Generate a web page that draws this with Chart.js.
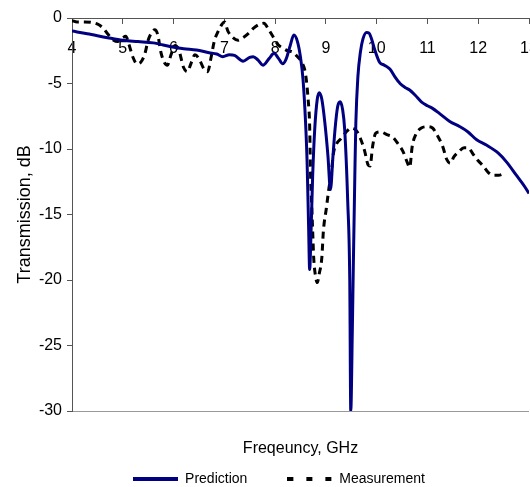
<!DOCTYPE html>
<html>
<head>
<meta charset="utf-8">
<script src="https://cdn.jsdelivr.net/npm/chart.js@4.4.1/dist/chart.umd.min.js"></script>
<style>
  html, body { margin: 0; padding: 0; overflow: hidden; background: #fff; }
  canvas { display: block; }
</style>
</head>
<body>
<canvas id="transChart" width="558" height="496"></canvas>
<script>
// Prediction curve (GHz, dB)
const predFreq = [4.0, 4.3, 4.7, 5.0, 5.3, 5.6, 5.95, 6.2, 6.45, 6.7, 6.85, 6.97, 7.1, 7.2, 7.37, 7.5,
    7.57, 7.66, 7.76, 7.88, 7.98, 8.07, 8.15, 8.22, 8.29, 8.37, 8.44, 8.5, 8.55, 8.6, 8.63, 8.66,
    8.68, 8.71, 8.74, 8.78, 8.83, 8.87, 8.92, 8.98, 9.04, 9.09, 9.14, 9.18, 9.23, 9.28, 9.33, 9.37,
    9.43, 9.47, 9.49, 9.52, 9.54, 9.57, 9.59, 9.63, 9.68, 9.73, 9.8, 9.85, 9.9, 9.96, 10.06, 10.15,
    10.26, 10.36, 10.46, 10.56, 10.65, 10.76, 10.88, 11.0, 11.1, 11.24, 11.44, 11.64, 11.8, 11.97,
    12.16, 12.39, 12.56, 12.75, 12.92, 13.0];
const predDb = [-1.0, -1.2, -1.5, -1.7, -1.8, -1.9, -2.2, -2.35, -2.45, -2.65, -2.75, -2.95, -2.8, -2.85, -3.3, -3.0,
    -2.95, -3.2, -3.6, -3.1, -2.7, -3.1, -3.5, -3.1, -2.2, -1.3, -1.8, -3.0, -4.7, -8.0, -11.0, -16.0,
    -19.2, -16.0, -12.0, -8.5, -6.2, -5.7, -6.2, -8.0, -10.5, -13.1, -10.5, -8.5, -6.8, -6.4, -7.0, -8.5,
    -14.0, -20.0, -30.0, -24.0, -19.0, -12.0, -8.0, -4.5, -2.6, -1.6, -1.1, -1.15, -1.6, -2.4, -3.4, -3.6,
    -3.9, -4.5, -5.0, -5.3, -5.5, -5.9, -6.4, -6.7, -6.9, -7.3, -7.9, -8.3, -8.7, -9.3,
    -9.7, -10.3, -11.0, -12.0, -12.9, -13.4];

// Measurement curve (GHz, dB)
const measFreq = [4.0, 4.1, 4.25, 4.4, 4.52, 4.62, 4.7, 4.82, 4.9, 5.0, 5.06, 5.12, 5.2, 5.28, 5.35, 5.43,
    5.5, 5.57, 5.63, 5.69, 5.75, 5.82, 5.88, 5.95, 6.03, 6.1, 6.2, 6.27, 6.35, 6.42, 6.5, 6.6,
    6.67, 6.74, 6.8, 6.88, 6.95, 7.0, 7.07, 7.17, 7.27, 7.37, 7.47, 7.57, 7.68, 7.78, 7.86, 7.94,
    8.05, 8.15, 8.25, 8.35, 8.45, 8.53, 8.6, 8.65, 8.68, 8.69, 8.7, 8.72, 8.74, 8.76, 8.8, 8.83,
    8.87, 8.92, 8.95, 9.01, 9.06, 9.11, 9.15, 9.21, 9.3, 9.4, 9.5, 9.6, 9.68, 9.76, 9.83, 9.87,
    9.92, 9.98, 10.08, 10.2, 10.32, 10.42, 10.52, 10.6, 10.65, 10.7, 10.77, 10.88, 11.0, 11.1, 11.2, 11.3,
    11.38, 11.45, 11.52, 11.62, 11.72, 11.8, 11.9, 12.0, 12.1, 12.2, 12.3, 12.4, 12.5];
const measDb = [-0.2, -0.3, -0.3, -0.35, -0.5, -0.8, -1.2, -1.7, -1.8, -1.5, -1.4, -2.0, -3.0, -3.5, -3.4, -2.8,
    -1.7, -1.1, -0.9, -1.3, -2.6, -3.4, -3.6, -2.8, -2.1, -2.4, -3.8, -4.1, -3.4, -2.8, -3.1, -3.9,
    -4.1, -3.0, -1.8, -1.0, -0.5, -0.3, -1.0, -1.5, -1.7, -1.5, -1.2, -0.8, -0.5, -0.4, -0.8, -1.3,
    -2.0, -2.3, -2.5, -2.6, -3.0, -3.4, -4.3, -6.2, -8.2, -10.2, -12.2, -14.2, -16.3, -18.3, -19.8, -20.2,
    -19.5, -18.3, -16.3, -14.5, -13.0, -11.7, -10.3, -9.6, -9.2, -8.7, -8.4, -8.6, -9.2, -10.1, -11.2, -11.3,
    -9.8, -8.8, -8.7, -8.9, -9.1, -9.6, -10.2, -11.0, -11.4, -9.8, -8.9, -8.4, -8.3, -8.4, -9.0, -9.8,
    -10.8, -11.1, -10.6, -10.2, -9.9, -9.9, -10.4, -10.9, -11.3, -11.8, -12.0, -12.0, -11.9];

const xTickValues = [4, 5, 6, 7, 8, 9, 10, 11, 12, 13];
const yTickValues = [-30, -25, -20, -15, -10, -5, 0];

Chart.defaults.font.family = "'Liberation Sans', Arial, sans-serif";
Chart.defaults.color = '#000';

// Small legend swatches: point-style legends ignore borderDash, so draw them as images
function legendSwatch(color, dash) {
    const c = document.createElement('canvas');
    c.width = 45;
    c.height = 4;
    const g = c.getContext('2d');
    g.strokeStyle = color;
    g.lineWidth = 4;
    g.setLineDash(dash);
    g.beginPath();
    g.moveTo(0, 2);
    g.lineTo(45, 2);
    g.stroke();
    return c;
}

const ctx = document.getElementById('transChart').getContext('2d');
const transChart = new Chart(ctx, {
    type: 'line',
    data: {
        datasets: [
            {
                label: 'Prediction',
                data: predFreq.map((f, i) => ({ x: f, y: predDb[i] })),
                borderColor: '#000080',
                borderWidth: 3,
                pointRadius: 0,
                pointStyle: legendSwatch('#000080', []),
                cubicInterpolationMode: 'monotone',
                fill: false,
            },
            {
                label: 'Measurement',
                data: measFreq.map((f, i) => ({ x: f, y: measDb[i] })),
                borderColor: '#000',
                borderWidth: 3,
                borderDash: [7, 5],
                pointRadius: 0,
                pointStyle: legendSwatch('#000', [6, 13]),
                cubicInterpolationMode: 'monotone',
                fill: false,
            },
        ],
    },
    options: {
        responsive: false,
        animation: false,
        layout: { padding: { top: 18, left: 0, right: 0, bottom: 0 } },
        scales: {
            x: {
                type: 'linear',
                position: { y: 0 }, // axis sits on the 0 dB line at the top
                min: 4,
                max: 13,
                afterBuildTicks: s => { s.ticks = xTickValues.map(v => ({ value: v })); },
                afterFit: s => {
                    s.paddingLeft = 0;
                    s.paddingRight = 29;
                    s.paddingTop = 0;
                    s.paddingBottom = 0;
                },
                ticks: { autoSkip: false, maxRotation: 0, padding: 16, font: { size: 16 } },
                grid: { drawOnChartArea: false, tickLength: 5, color: '#555' },
                border: { color: '#555' },
            },
            y: {
                type: 'linear',
                min: -30,
                max: 0,
                afterBuildTicks: s => { s.ticks = yTickValues.map(v => ({ value: v })); },
                afterFit: s => {
                    s.width = 72;
                    s.paddingTop = 0;
                    s.paddingBottom = 0;
                },
                ticks: { padding: 5, font: { size: 16 } },
                grid: {
                    tickLength: 5,
                    tickColor: '#555',
                    color: c => (c.tick && c.tick.value === -30 ? '#999' : 'rgba(0,0,0,0)'),
                },
                border: { color: '#555' },
                title: {
                    display: true,
                    text: 'Transmission, dB',
                    font: { size: 18 },
                    padding: { top: 14, bottom: 0 },
                },
            },
        },
        plugins: {
            title: {
                display: true,
                text: 'Freqeuncy, GHz',
                position: 'bottom',
                fullSize: false,
                weight: 500, // keep it above the legend
                font: { size: 16, weight: 'normal' },
                padding: { top: 28.4, bottom: -26.6 },
            },
            legend: {
                position: 'bottom',
                labels: {
                    usePointStyle: true,
                    pointStyleWidth: 45,
                    padding: 40,
                    font: { size: 14 },
                },
            },
            tooltip: { enabled: false },
        },
    },
});
</script>
</body>
</html>
